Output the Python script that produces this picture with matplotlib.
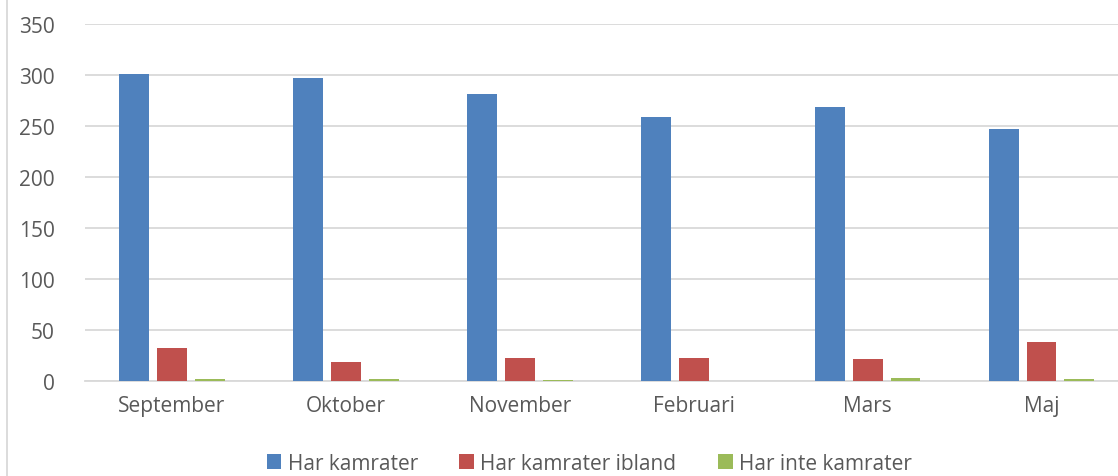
import numpy as np
from matplotlib import pyplot as plt
from matplotlib.lines import Line2D

months = ["September", "Oktober", "November", "Februari", "Mars", "Maj"]
har_kamrater = [301, 297, 281, 259, 269, 247]
har_kamrater_ibland = [32, 19, 23, 23, 22, 38]
har_inte_kamrater = [2, 2, 1, 0, 3, 2]

series = [
    ("Har kamrater", har_kamrater, "#4f81bd"),
    ("Har kamrater ibland", har_kamrater_ibland, "#c0504d"),
    ("Har inte kamrater", har_inte_kamrater, "#9bbb59"),
]

plt.rcParams["font.family"] = ["Open Sans", "DejaVu Sans"]

fig = plt.figure(figsize=(11.18, 4.77), dpi=100)
ax = fig.add_axes([85 / 1118, 1 - 382 / 477, (1118 - 85) / 1118, 357 / 477])

x = np.arange(len(months))
width = 0.172
step = 0.218
for i, (name, values, color) in enumerate(series):
    ax.bar(x + (i - 1) * step, values, width, color=color, label=name, zorder=3)

ax.set_ylim(0, 350)
ax.set_yticks(range(0, 351, 50))
ax.set_xlim(-0.5, 5.44)
ax.set_xticks(x)
ax.set_xticklabels(months)
ax.yaxis.grid(True, color="#d9d9d9", linewidth=1.3, zorder=0)
for side in ["top", "right", "left"]:
    ax.spines[side].set_visible(False)
ax.spines["bottom"].set_color("#d9d9d9")
ax.spines["bottom"].set_linewidth(1.3)
ax.tick_params(axis="both", length=0, colors="#595959", labelsize=15)
ax.tick_params(axis="y", pad=22)
ax.tick_params(axis="x", pad=10)

fig.legend(loc="lower center", bbox_to_anchor=(0.527, -0.035), ncol=3, frameon=False,
           fontsize=15, handlelength=0.7, handleheight=0.7, handletextpad=0.3,
           columnspacing=2.0, labelcolor="#595959")

fig.add_artist(Line2D([7 / 1118, 7 / 1118], [0, 1], color="#d9d9d9", linewidth=1.3,
                      transform=fig.transFigure))

plt.savefig("out.png", dpi=100)
plt.close()
